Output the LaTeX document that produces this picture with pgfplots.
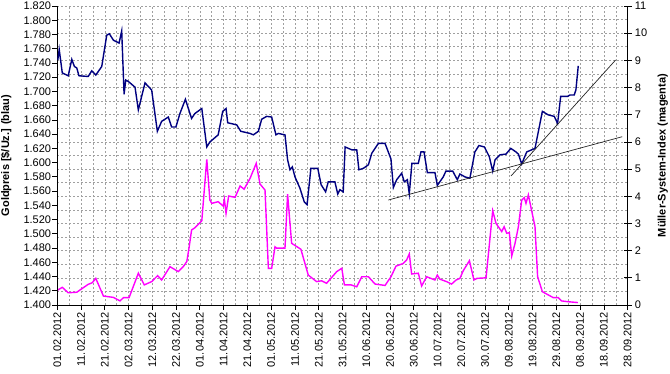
\documentclass[border=0pt]{standalone}
\usepackage{fontspec}
\setmainfont{Liberation Sans}
\usepackage{pgfplots}
\pgfplotsset{compat=1.18}
\definecolor{goldblue}{RGB}{0,0,128}
\definecolor{mag}{RGB}{255,0,255}
\definecolor{gridgray}{RGB}{160,160,160}
\begin{document}
\begin{tikzpicture}
\path[use as bounding box] (-57.3pt,-68pt) rectangle (612.7pt,305pt);
% ---------- right axis: Mueller-System-Index (magenta), carries the grid
\begin{axis}[
  scale only axis, width=570.4pt, height=299pt,
  xmin=0, xmax=240, ymin=0, ymax=11,
  axis x line*=bottom, axis y line*=right,
  x axis line style={draw=none},
  y axis line style={black, line width=0.8pt, -},
  xtick={0,10,...,240}, minor x tick num=1,
  xticklabels={},
  major x tick style={draw=none}, minor x tick style={draw=none},
  ytick={0,...,11}, minor y tick num=1,
  minor y tick style={draw=none},
  major y tick style={black, line width=0.8pt},
  tick align=center, major tick length=8pt,
  grid=both,
  major grid style={gridgray, dash pattern=on 2pt off 2pt, line width=0.6pt},
  minor grid style={gridgray, dash pattern=on 2pt off 2pt, line width=0.6pt},
  /pgf/number format/assume math mode=true,
  yticklabel style={font=\fontsize{11}{13}\selectfont, inner sep=1pt, xshift=2pt},
  ylabel={Müller-System-Index (magenta)},
  every axis y label/.style={at={(axis description cs:1.0614,0.5)}, rotate=90, anchor=center, font=\fontsize{11}{13}\selectfont\bfseries},
]
\addplot[mag, line width=1.4pt] table {
0.2 0.55
2.1 0.65
4.6 0.45
8.2 0.47
10.0 0.58
13.0 0.76
14.7 0.82
16.2 0.98
19.4 0.33
23.6 0.28
26.4 0.15
27.8 0.27
30.2 0.27
34.1 1.17
36.6 0.74
39.7 0.86
42.2 1.08
43.9 0.92
47.4 1.41
50.9 1.23
53.0 1.41
54.5 1.60
55.5 2.14
56.5 2.76
57.9 2.84
60.8 3.10
62.9 5.36
64.2 3.86
65.0 3.74
67.7 3.80
69.8 3.64
70.3 3.89
71.0 3.37
72.1 4.01
74.8 3.96
76.9 4.38
78.6 4.26
81.1 4.66
83.7 5.21
85.3 4.45
87.4 4.23
88.8 1.35
90.2 1.35
91.6 2.14
92.3 2.09
95.8 2.09
96.9 4.08
98.6 2.27
102.5 2.05
105.6 1.10
109.1 0.86
111.2 0.89
113.3 0.80
117.6 1.23
119.7 1.35
120.8 0.74
123.6 0.74
126.0 0.67
128.1 1.04
130.9 1.04
133.7 0.77
137.9 0.72
140.4 1.04
142.5 1.43
145.6 1.53
147.0 1.66
148.1 1.88
149.1 1.14
151.9 1.17
153.3 0.70
155.4 1.04
158.9 0.92
159.9 1.10
161.0 0.95
163.8 0.86
165.9 0.77
167.8 0.92
169.4 0.98
170.8 1.26
173.4 1.63
175.3 0.92
176.6 0.98
180.4 1.00
183.2 3.47
184.6 3.00
187.0 2.70
188.0 2.88
189.1 2.64
190.2 2.66
191.2 1.80
192.6 2.27
194.0 2.88
195.4 3.86
196.5 3.95
197.2 3.74
198.2 4.05
201.0 2.88
202.1 1.04
204.1 0.49
206.6 0.37
208.7 0.27
210.8 0.27
212.2 0.15
215.0 0.12
219.0 0.09
};
\end{axis}
% ---------- left axis: gold price (blue)
\begin{axis}[
  scale only axis, width=570.4pt, height=299pt,
  xmin=0, xmax=240, ymin=1400, ymax=1820,
  axis x line*=bottom, axis y line*=left,
  axis line style={black, line width=0.8pt, -},
  tick align=outside, major tick length=5pt,
  tick style={black, line width=0.8pt},
  xtick={0,10,...,240},
  xticklabels={01.02.2012,11.02.2012,21.02.2012,02.03.2012,12.03.2012,22.03.2012,01.04.2012,11.04.2012,21.04.2012,01.05.2012,11.05.2012,21.05.2012,31.05.2012,10.06.2012,20.06.2012,30.06.2012,10.07.2012,20.07.2012,30.07.2012,09.08.2012,19.08.2012,29.08.2012,08.09.2012,18.09.2012,28.09.2012},
  xticklabel style={rotate=90, anchor=east, font=\fontsize{11}{13}\selectfont, inner sep=2pt},
  ytick={1400,1420,...,1820},
  /pgf/number format/assume math mode=true,
  /pgf/number format/fixed, /pgf/number format/precision=0,
  /pgf/number format/1000 sep={.},
  yticklabel style={font=\fontsize{11}{13}\selectfont, inner sep=1pt},
  ylabel={Goldpreis [\$/Uz.] (blau)},
  every axis y label/.style={at={(axis description cs:-0.0894,0.5)}, rotate=90, anchor=center, font=\fontsize{11}{13}\selectfont\bfseries},
]
\addplot[goldblue, line width=1.4pt] table {
0.2 1744
0.8 1759
2.1 1726
4.6 1722
6.1 1745
7.2 1735
8.2 1733
9.1 1722
13.0 1721
14.5 1729
16.2 1723
18.7 1735
20.8 1779
21.9 1781
23.6 1772
26.0 1768
27.1 1785
28.1 1696
28.8 1716
29.9 1714
32.7 1706
34.1 1674
36.9 1712
39.7 1702
42.1 1644
43.9 1658
46.7 1664
48.1 1650
49.9 1650
51.6 1669
53.9 1689
56.5 1662
57.9 1669
60.8 1676
62.9 1622
64.2 1629
67.7 1639
69.6 1672
71.0 1676
71.7 1656
75.5 1653
77.2 1644
81.1 1641
82.5 1639
84.6 1644
86.0 1661
88.1 1665
90.2 1664
92.0 1639
93.0 1641
95.8 1639
96.9 1604
97.9 1590
98.9 1594
100.0 1580
102.1 1564
103.9 1545
105.1 1541
106.7 1592
109.6 1592
111.0 1569
112.9 1559
114.0 1573
116.8 1573
118.0 1556
118.9 1562
120.3 1559
121.1 1622
123.9 1618
126.0 1618
126.9 1590
128.8 1592
130.9 1597
132.3 1613
135.1 1627
137.9 1627
140.4 1605
141.4 1565
142.8 1576
144.9 1585
146.0 1573
147.3 1576
148.1 1556
149.2 1599
151.9 1599
153.0 1615
154.3 1615
155.7 1586
158.9 1586
159.9 1568
162.4 1580
163.5 1588
166.4 1588
168.3 1576
169.4 1584
171.5 1580
173.6 1578
175.7 1615
177.4 1624
179.7 1622
181.8 1608
183.2 1588
184.2 1604
186.3 1611
188.8 1612
190.8 1620
193.0 1615
194.0 1612
195.4 1598
197.5 1615
201.0 1620
204.1 1672
206.6 1667
209.1 1665
210.5 1655
211.8 1693
214.7 1693
215.7 1695
217.5 1695
218.2 1702
219.2 1736
};
\addplot[black!85, line width=0.7pt] coordinates {(139.3,1547.5) (237.7,1636.4)};
\addplot[black!85, line width=0.7pt] coordinates {(190.9,1581.2) (234.9,1744.1)};
\end{axis}
\end{tikzpicture}
\end{document}
